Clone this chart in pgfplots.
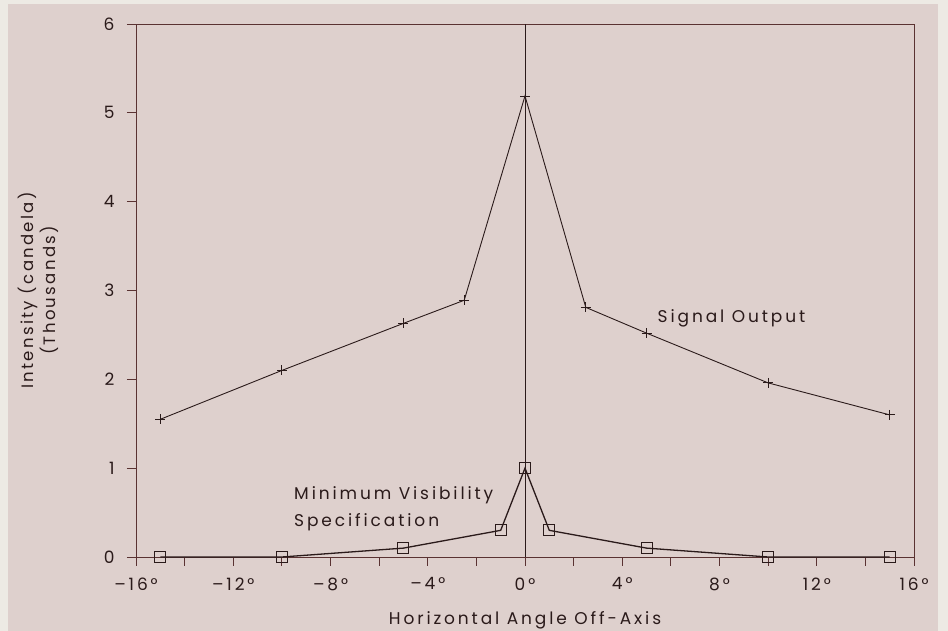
\documentclass[border=0pt]{standalone}
\usepackage{pgfplots}
\pgfplotsset{compat=1.18}
\usepackage{fontspec}
\setmainfont[LetterSpace=17]{Poppins}
\newfontfamily\ylfont[LetterSpace=14]{Poppins}
\definecolor{bgout}{RGB}{237,234,228}
\definecolor{bgin}{RGB}{222,208,205}
\definecolor{ink}{RGB}{42,26,26}
\definecolor{axisc}{RGB}{90,50,50}
\newcommand{\fs}{\fontsize{17}{20}\selectfont}
\begin{document}
\begin{tikzpicture}
\useasboundingbox (0pt,0pt) rectangle (948pt,631pt);
\fill[bgout] (0pt,0pt) rectangle (948pt,631pt);
\fill[bgin] (8pt,0pt) rectangle (938pt,627pt);
\begin{axis}[
  at={(136pt,74pt)}, anchor=south west,
  scale only axis, width=778pt, height=533pt,
  xmin=-16, xmax=16, ymin=0, ymax=6,
  axis line style={axisc, line width=0.9pt},
  xtick={-16,-12,-8,-4,0,4,8,12,16},
  xticklabels={–16°,–12°,–8°,–4°,0°,4°,8°,12°,16°},
  minor xtick={-14,-10,-6,-2,2,6,10,14},
  ytick={0,1,2,3,4,5,6},
  xtick pos=bottom, ytick pos=left,
  tick align=outside,
  major tick length=9pt, minor tick length=9pt,
  tick style={axisc, line width=0.9pt},
  minor tick style={axisc, line width=0.9pt},
  /pgf/number format/assume math mode=true,
  tick label style={font=\fs, text=ink},
  xticklabel style={yshift=-8pt},
  yticklabel style={xshift=-9pt},
  xlabel={Horizontal Angle Off-Axis},
  xlabel style={font=\fs, text=ink, yshift=-14pt},
  ylabel={\shortstack{Intensity (candela)\\(Thousands)}},
  ylabel style={font=\ylfont\fontsize{16.5}{15}\selectfont, text=ink, yshift=38pt},
  clip=false,
]
\addplot[ink, line width=0.7pt, forget plot] coordinates {(0,0) (0,6)};
\addplot[ink, line width=0.9pt, mark=+, mark size=5pt, mark options={line width=0.9pt}]
  coordinates {(-15,1.55) (-10,2.10) (-5,2.63) (-2.5,2.89) (0,5.19) (2.5,2.81) (5,2.52) (10,1.96) (15,1.60)};
\addplot[ink, line width=1.3pt, mark=square, mark size=5.5pt, mark options={line width=0.9pt}]
  coordinates {(-15,0) (-10,0) (-5,0.1) (-1,0.3) (0,1.0) (1,0.3) (5,0.1) (10,0) (15,0)};
\node[anchor=west, font=\fs, text=ink, inner sep=0pt] at (axis cs:5.45,2.69) {Signal Output};
\node[anchor=west, font=\fs, text=ink, align=left, inner sep=0pt] at (axis cs:-9.5,0.54) {Minimum Visibility\\[7pt]Specification};
\end{axis}
\end{tikzpicture}
\end{document}
